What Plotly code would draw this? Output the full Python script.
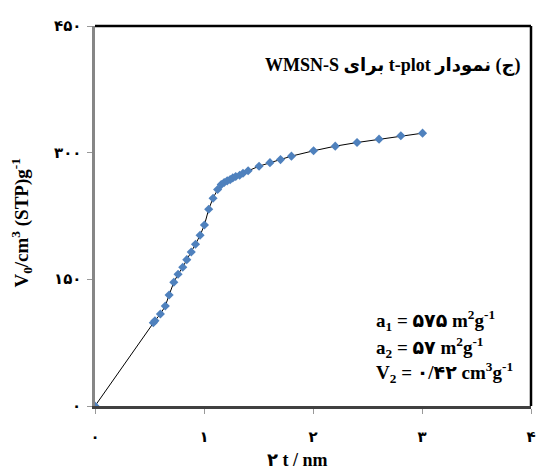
import plotly.graph_objects as go

# t-plot data (2t in nm, adsorbed volume in cm3(STP)/g)
t2_nm = [0, 0.535, 0.55, 0.60, 0.645, 0.68, 0.723, 0.762, 0.805, 0.842, 0.883,
         0.922, 0.964, 1.004, 1.043, 1.083, 1.125, 1.158, 1.185, 1.213, 1.240,
         1.264, 1.291, 1.327, 1.358, 1.405, 1.505, 1.605, 1.702, 1.802, 2.005,
         2.204, 2.404, 2.606, 2.806, 3.005]
v_ads = [0, 98.6, 101, 109, 118.4, 131.5, 146.5, 156, 164.3, 173.3, 182.4,
         191.6, 202.2, 214.4, 233, 246.1, 256.3, 262.2, 264.6, 266.6, 268.1,
         270.1, 271.7, 273.3, 275.7, 278.5, 284, 288.2, 291.8, 295.9, 302.2,
         307.7, 312, 316, 320, 323.1]

x_tickvals = [0, 1, 2, 3, 4]
x_ticktext = ["۰", "۱", "۲", "۳", "۴"]
y_tickvals = [0, 150, 300, 450]
y_ticktext = ["۰", "۱۵۰", "۳۰۰", "۴۵۰"]

title_text = "\u202B(ج) نمودار t-plot برای WMSN-S\u202C"
x_title = "۲ t / nm"
y_title = "V<sub>0</sub>/cm<sup>3</sup> (STP)g<sup>-1</sup>"
info_lines = [
    "a<sub>1</sub> = ۵۷۵ m<sup>2</sup>g<sup>-1</sup>",
    "a<sub>2</sub> = ۵۷ m<sup>2</sup>g<sup>-1</sup>",
    "V<sub>2</sub> = ۰/۴۲ cm<sup>3</sup>g<sup>-1</sup>",
]

FONT = "Liberation Serif, DejaVu Sans, serif"

fig = go.Figure()
fig.add_trace(go.Scatter(
    x=t2_nm, y=v_ads, mode="lines+markers",
    line=dict(color="black", width=1),
    marker=dict(symbol="diamond", size=7, color="#4F81BD"),
    showlegend=False,
))

fig.update_layout(
    width=541, height=470,
    margin=dict(l=95, r=5, t=26, b=64),
    paper_bgcolor="white", plot_bgcolor="white",
    font=dict(family=FONT, color="black", size=14, weight="bold"),
    xaxis=dict(
        range=[0, 4], tickvals=x_tickvals, ticktext=x_ticktext,
        showgrid=False, zeroline=False,
        showline=True, linecolor="#404040", linewidth=2.5,
        ticks="outside", ticklen=5, tickcolor="#999999", tickwidth=1,
        ticklabelstandoff=10,
        tickfont=dict(family=FONT, size=15, weight="bold"),
    ),
    yaxis=dict(
        range=[0, 450], tickvals=y_tickvals,
        showticklabels=False,
        showgrid=False, zeroline=False,
        showline=True, linecolor="#868686", linewidth=3,
        ticks="outside", ticklen=5, tickcolor="#999999", tickwidth=1,
    ),
    shapes=[
        dict(type="line", xref="paper", yref="paper", x0=0, x1=1, y0=1, y1=1,
             line=dict(color="black", width=2.5)),
        dict(type="line", xref="paper", yref="paper", x0=1, x1=1, y0=0, y1=1,
             line=dict(color="black", width=2.5)),
    ],
)

# y tick labels (Persian digits), placed at the axis tick values
for val, lab in zip(y_tickvals, y_ticktext):
    fig.add_annotation(
        text=lab, xref="paper", yref="y", x=0, y=val, xshift=-12,
        xanchor="right", yanchor="middle", showarrow=False,
        font=dict(family=FONT, size=15, weight="bold"),
    )

# axis titles
fig.add_annotation(
    text=x_title, xref="paper", yref="paper", x=0.465, y=-0.142,
    xanchor="center", yanchor="middle", showarrow=False,
    font=dict(family=FONT, size=18, weight="bold"),
)
fig.add_annotation(
    text=y_title, xref="paper", yref="paper", x=0, xshift=-73, y=0.48,
    xanchor="center", yanchor="middle", showarrow=False, textangle=-90,
    font=dict(family=FONT, size=19, weight="bold"),
)

fig.add_annotation(
    text=title_text, xref="paper", yref="paper", x=0.98, y=0.895,
    xanchor="right", yanchor="middle", showarrow=False,
    font=dict(family=FONT, size=18, weight="bold"),
)

for txt, yy in zip(info_lines, [0.226, 0.153, 0.088]):
    fig.add_annotation(
        text=txt, xref="paper", yref="paper", x=0.639, y=yy,
        xanchor="left", yanchor="middle", showarrow=False, align="left",
        font=dict(family=FONT, size=19, weight="bold"),
    )

fig.write_html("out.html")
